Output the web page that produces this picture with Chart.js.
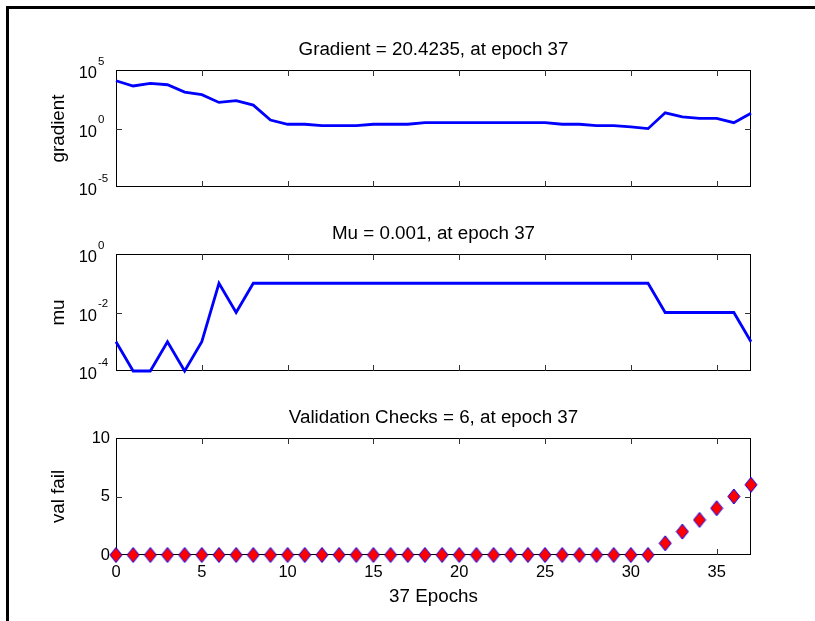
<!DOCTYPE html>
<html>
<head>
<meta charset="utf-8">
<title>Training State</title>
<script src="https://cdn.jsdelivr.net/npm/chart.js@4.4.0/dist/chart.umd.min.js"></script>
<style>
    html, body { margin: 0; padding: 0; background: #fff; }
    #figure { position: relative; width: 815px; height: 621px; overflow: hidden; background: #fff; }
    #frame {
        position: absolute; left: 6px; top: 6px; width: 830px; height: 640px;
        border-left: 3px solid #000; border-top: 3px solid #000;
    }
    .panel { position: absolute; left: 0; }
</style>
</head>
<body>
<div id="figure">
    <div id="frame"></div>
    <canvas id="gradientChart" class="panel" width="815" height="200" style="top:0"></canvas>
    <canvas id="muChart" class="panel" width="815" height="200" style="top:200px"></canvas>
    <canvas id="valChart" class="panel" width="815" height="221" style="top:400px"></canvas>
</div>
<script>
'use strict';

// Training record, one entry per epoch
const epochs = [0, 1, 2, 3, 4, 5, 6, 7, 8, 9, 10, 11, 12, 13, 14, 15, 16, 17, 18,
    19, 20, 21, 22, 23, 24, 25, 26, 27, 28, 29, 30, 31, 32, 33, 34, 35, 36, 37];
const gradientValues = [1.2e4, 4.3e3, 7.3e3, 5.5e3, 1.3e3, 7.7e2, 1.7e2, 2.4e2, 1.0e2, 5.3,
    2.3, 2.3, 1.75, 1.75, 1.75, 2.3, 2.3, 2.3, 3.15, 3.15, 3.15, 3.15, 3.15, 3.15, 3.15, 3.15,
    2.3, 2.3, 1.75, 1.75, 1.35, 0.97, 22, 10, 7.4, 7.4, 3.15, 20.4235];
const muValues = [1e-3, 1e-4, 1e-4, 1e-3, 1e-4, 1e-3, 1e-1, 1e-2, 1e-1, 1e-1,
    1e-1, 1e-1, 1e-1, 1e-1, 1e-1, 1e-1, 1e-1, 1e-1, 1e-1, 1e-1, 1e-1, 1e-1, 1e-1, 1e-1,
    1e-1, 1e-1, 1e-1, 1e-1, 1e-1, 1e-1, 1e-1, 1e-1, 1e-2, 1e-2, 1e-2, 1e-2, 1e-2, 1e-3];
const valFailValues = [0, 0, 0, 0, 0, 0, 0, 0, 0, 0, 0, 0, 0, 0, 0, 0, 0, 0, 0,
    0, 0, 0, 0, 0, 0, 0, 0, 0, 0, 0, 0, 0, 1, 2, 3, 4, 5, 6];

// Axis ticks
const epochTicks = [0, 5, 10, 15, 20, 25, 30, 35];
const gradientTicks = [1e-5, 1e0, 1e5];
const muTicks = [1e-4, 1e-2, 1e0];
const valFailTicks = [0, 5, 10];

const FONT = '"Liberation Sans", Arial, Helvetica, sans-serif';
const LINE_BLUE = '#0000ff';

// Red diamond with a thin blue edge, used for the validation markers
function makeDiamond() {
    const c = document.createElement('canvas');
    c.width = 14;
    c.height = 17;
    const g = c.getContext('2d');
    g.beginPath();
    g.moveTo(7, 1);
    g.lineTo(13, 8.5);
    g.lineTo(7, 16);
    g.lineTo(1, 8.5);
    g.closePath();
    g.fillStyle = '#ff0000';
    g.fill();
    g.strokeStyle = LINE_BLUE;
    g.lineWidth = 1;
    g.stroke();
    return c;
}

// Box, inward ticks, log tick labels and panel texts
const axesBoxPlugin = {
    id: 'axesBox',
    beforeDatasetsDraw(chart, args, opts) {
        const { ctx, chartArea: a } = chart;
        const xs = chart.scales.x;
        const ys = chart.scales.y;
        ctx.save();
        ctx.strokeStyle = '#000';
        ctx.lineWidth = 1;
        ctx.strokeRect(a.left + 0.5, a.top + 0.5, a.right - a.left - 1, a.bottom - a.top - 1);

        ctx.strokeStyle = '#333';
        ctx.beginPath();
        xs.ticks.forEach(t => {
            if (t.value <= xs.min || t.value >= xs.max) return;
            const px = Math.round(xs.getPixelForValue(t.value)) + 0.5;
            ctx.moveTo(px, a.bottom);
            ctx.lineTo(px, a.bottom - 6);
            ctx.moveTo(px, a.top);
            ctx.lineTo(px, a.top + 6);
        });
        ys.ticks.forEach(t => {
            if (t.value <= ys.min || t.value >= ys.max) return;
            const py = Math.round(ys.getPixelForValue(t.value)) + 0.5;
            ctx.moveTo(a.left, py);
            ctx.lineTo(a.left + 6, py);
            ctx.moveTo(a.right, py);
            ctx.lineTo(a.right - 6, py);
        });
        ctx.stroke();
        ctx.restore();
    },
    afterDraw(chart, args, opts) {
        const { ctx, chartArea: a } = chart;
        const ys = chart.scales.y;
        const cx = (a.left + a.right) / 2;
        ctx.save();
        ctx.fillStyle = '#000';

        if (opts.logLabels) {
            ys.ticks.forEach(t => {
                const py = ys.getPixelForValue(t.value);
                const exp = Math.round(Math.log10(t.value));
                ctx.font = '16.5px ' + FONT;
                ctx.textAlign = 'right';
                ctx.textBaseline = 'alphabetic';
                ctx.fillText('10', a.left - 19, py + 8);
                ctx.font = '11.5px ' + FONT;
                ctx.textAlign = 'left';
                ctx.fillText(String(exp), a.left - 18, py - 5.5);
            });
        }

        ctx.font = '18.8px ' + FONT;
        ctx.textAlign = 'center';
        ctx.textBaseline = 'alphabetic';
        if (opts.title) ctx.fillText(opts.title, cx, a.top - 15);
        if (opts.xlabel) ctx.fillText(opts.xlabel, cx, a.bottom + 47);

        if (opts.ylabel) {
            ctx.translate(64, (a.top + a.bottom) / 2);
            ctx.rotate(-Math.PI / 2);
            ctx.fillText(opts.ylabel, 0, 0);
        }
        ctx.restore();
    }
};

function fixedTicks(values) {
    return scale => { scale.ticks = values.map(v => ({ value: v })); };
}

// axis boxes get a fixed size so the plot area lands at the same place in every panel
function fixedSize(prop, size) {
    return scale => { scale[prop] = size; };
}

function buildChart(canvasId, panel) {
    const xBand = panel.showEpochLabels ? 45 : 0;
    const yBand = panel.yType === 'logarithmic' ? 0 : 40;
    const pad = Object.assign({}, panel.padding);
    pad.left -= yBand;
    pad.bottom -= xBand;

    const config = {
        type: 'line',
        data: {
            datasets: [{
                data: epochs.map((e, i) => ({ x: e, y: panel.values[i] })),
                borderColor: LINE_BLUE,
                backgroundColor: LINE_BLUE,
                borderWidth: 2.8,
                tension: 0,
                clip: false,
                showLine: !panel.markers,
                pointRadius: panel.markers ? 7 : 0,
                pointStyle: panel.markers || 'circle'
            }]
        },
        options: {
            responsive: false,
            animation: false,
            events: [],
            layout: { padding: pad },
            plugins: {
                legend: { display: false },
                tooltip: { enabled: false },
                axesBox: {
                    title: panel.title,
                    ylabel: panel.ylabel,
                    xlabel: panel.xlabel,
                    logLabels: panel.yType === 'logarithmic'
                }
            },
            scales: {
                x: {
                    type: 'linear',
                    min: 0,
                    max: 37,
                    afterBuildTicks: fixedTicks(epochTicks),
                    afterFit: fixedSize('height', xBand),
                    grid: { display: false, drawTicks: false },
                    border: { display: false },
                    ticks: {
                        display: !!panel.showEpochLabels,
                        autoSkip: false,
                        maxRotation: 0,
                        padding: 8,
                        color: '#000',
                        font: { family: FONT, size: 16.5, lineHeight: 1.2 }
                    }
                },
                y: {
                    type: panel.yType,
                    min: panel.yTicks[0],
                    max: panel.yTicks[panel.yTicks.length - 1],
                    afterBuildTicks: fixedTicks(panel.yTicks),
                    afterFit: fixedSize('width', yBand),
                    grid: { display: false, drawTicks: false },
                    border: { display: false },
                    ticks: {
                        display: panel.yType !== 'logarithmic',
                        autoSkip: false,
                        padding: 6,
                        color: '#000',
                        font: { family: FONT, size: 16.5 }
                    }
                }
            }
        },
        plugins: [axesBoxPlugin]
    };
    return new Chart(document.getElementById(canvasId), config);
}

buildChart('gradientChart', {
    values: gradientValues,
    yType: 'logarithmic',
    yTicks: gradientTicks,
    title: 'Gradient = 20.4235, at epoch 37',
    ylabel: 'gradient',
    padding: { left: 116, right: 64, top: 70, bottom: 13 }
});

buildChart('muChart', {
    values: muValues,
    yType: 'logarithmic',
    yTicks: muTicks,
    title: 'Mu = 0.001, at epoch 37',
    ylabel: 'mu',
    padding: { left: 116, right: 64, top: 54, bottom: 29 }
});

buildChart('valChart', {
    values: valFailValues,
    yType: 'linear',
    yTicks: valFailTicks,
    markers: makeDiamond(),
    showEpochLabels: true,
    title: 'Validation Checks = 6, at epoch 37',
    ylabel: 'val fail',
    xlabel: '37 Epochs',
    padding: { left: 116, right: 64, top: 38, bottom: 66 }
});
</script>
</body>
</html>
